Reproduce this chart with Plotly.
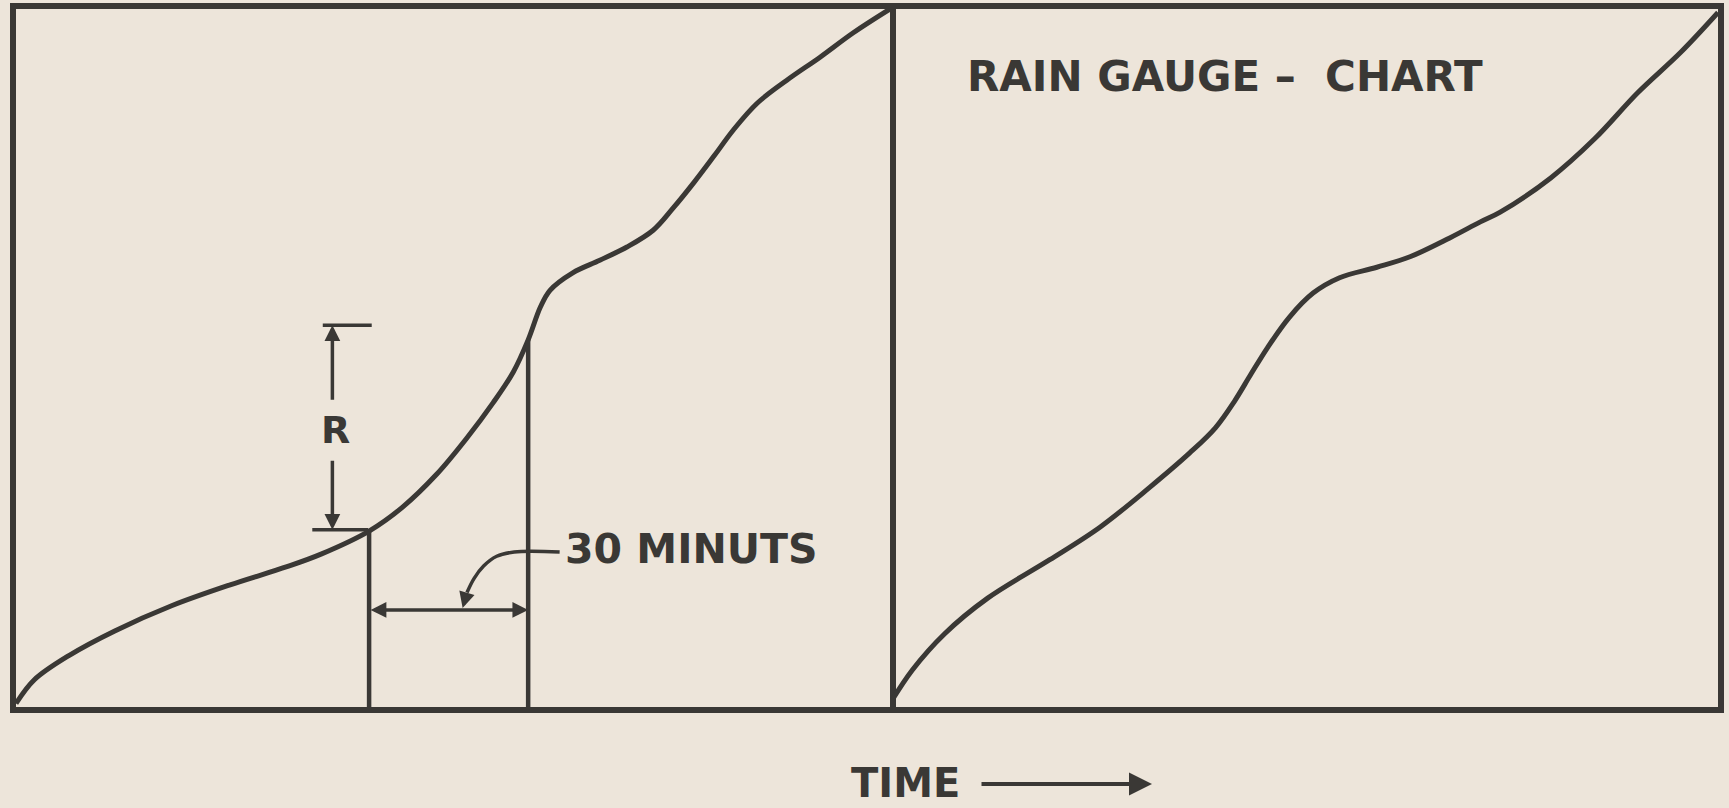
import numpy as np
import plotly.graph_objects as go

# ---------------- data (time and cumulative rainfall, % of chart span) ----------------
left_time = [0, 2.1, 6.1, 11.3, 17.8, 24.5, 31.0, 34.9, 40.4, 44.2, 48.1, 51.5, 54.6, 56.9,
             58.6, 60.0, 61.1, 63.7, 66.8, 69.9, 72.9, 75.2, 77.6, 79.9, 82.1, 84.8,
             88.2, 92.0, 95.8, 100]
left_rain = [0.5, 3.9, 7.4, 10.9, 14.5, 17.5, 20.1, 21.9, 25.2, 28.6, 33.3, 38.4, 43.6, 48.0,
             52.6, 57.3, 59.7, 62.2, 64.0, 65.9, 68.3, 71.5, 75.2, 79.0, 82.7, 86.5,
             89.8, 93.1, 96.6, 100]

right_time = [0, 2.7, 6.6, 11.8, 19.3, 25.4, 31.4, 36.2, 39.3, 41.6, 43.6, 45.6, 48.2, 51.1,
              54.3, 58.8, 62.8, 67.6, 71.3, 73.7, 79.8, 85.1, 90.3, 95.5, 100]
right_rain = [0.5, 5.3, 10.5, 15.6, 21.1, 25.8, 31.5, 36.4, 40.0, 43.8, 47.7, 51.5, 55.8, 59.3,
              61.5, 63.0, 64.5, 67.2, 69.5, 70.9, 75.8, 81.4, 88.0, 93.8, 99.5]

# 30-minute interval marked on the left chart
interval_times = [40.4, 58.6]
interval_label = "30 MINUTS"
interval_dim_rain = 13.9          # level of the horizontal dimension arrow

# rainfall depth R dimension
r_dim_time = 36.2
r_dim_low, r_dim_high = 25.4, 54.7
r_gap_low, r_gap_high = 35.5, 43.8
r_tick_low = [33.9, 40.3]
r_tick_high = [35.1, 40.7]

title_text = "RAIN GAUGE –  CHART"
axis_label = "TIME"

# ---------------- styling ----------------
W, H = 1729, 808
INK = "#3a3835"
PAPER = "#ede5da"
FONT = "DejaVu Sans"

interval_rain = list(np.interp(interval_times, left_time, left_rain))

fig = go.Figure()

fig.add_trace(go.Scatter(x=left_time, y=left_rain, mode="lines",
                         line=dict(color=INK, width=5, shape="spline", smoothing=1.0),
                         xaxis="x", yaxis="y", hoverinfo="skip"))
fig.add_trace(go.Scatter(x=right_time, y=right_rain, mode="lines",
                         line=dict(color=INK, width=5, shape="spline", smoothing=1.0),
                         xaxis="x2", yaxis="y2", hoverinfo="skip"))

# vertical lines bounding the 30-minute interval
vx, vy = [], []
for t, r in zip(interval_times, interval_rain):
    vx += [t, t, None]
    vy += [0, r, None]
fig.add_trace(go.Scatter(x=vx, y=vy, mode="lines", line=dict(color=INK, width=4.5),
                         xaxis="x", yaxis="y", hoverinfo="skip"))

# R dimension ticks
fig.add_trace(go.Scatter(x=r_tick_low + [None] + r_tick_high,
                         y=[r_dim_low, r_dim_low, None, r_dim_high, r_dim_high],
                         mode="lines", line=dict(color=INK, width=3.5),
                         xaxis="x", yaxis="y", hoverinfo="skip"))

# leader line from label to the interval arrow
leader_t = [62.2, 57.0, 55.0, 53.5, 52.4, 51.6]
leader_r = [22.2, 22.2, 21.6, 20.2, 18.4, 16.4]
fig.add_trace(go.Scatter(x=leader_t, y=leader_r, mode="lines",
                         line=dict(color=INK, width=3.5, shape="spline"),
                         xaxis="x", yaxis="y", hoverinfo="skip"))

ann = []
# horizontal double arrow (30 minutes)
ann.append(dict(x=interval_times[1], y=interval_dim_rain, ax=interval_times[0], ay=interval_dim_rain,
                xref="x", yref="y", axref="x", ayref="y", text="", showarrow=True,
                arrowside="end+start", arrowhead=2, startarrowhead=2,
                arrowsize=0.9, startarrowsize=0.9, arrowwidth=3.5, arrowcolor=INK))
# leader arrow tip
ann.append(dict(x=51.1, y=interval_dim_rain + 0.3, ax=leader_t[-1], ay=leader_r[-1],
                xref="x", yref="y", axref="x", ayref="y", text="", showarrow=True,
                arrowhead=2, arrowsize=0.9, arrowwidth=3.5, arrowcolor=INK))
# R dimension arrows
ann.append(dict(x=r_dim_time, y=r_dim_high, ax=r_dim_time, ay=r_gap_high,
                xref="x", yref="y", axref="x", ayref="y", text="", showarrow=True,
                arrowhead=2, arrowsize=0.9, arrowwidth=3.5, arrowcolor=INK))
ann.append(dict(x=r_dim_time, y=r_dim_low, ax=r_dim_time, ay=r_gap_low,
                xref="x", yref="y", axref="x", ayref="y", text="", showarrow=True,
                arrowhead=2, arrowsize=0.9, arrowwidth=3.5, arrowcolor=INK))
# labels
ann.append(dict(x=r_dim_time + 0.3, y=(r_gap_low + r_gap_high) / 2, xref="x", yref="y",
                text="R", showarrow=False,
                font=dict(family=FONT, size=38, color=INK, weight="bold")))
ann.append(dict(x=62.6, y=22.6, xref="x", yref="y", xanchor="left", yanchor="middle",
                text=interval_label, showarrow=False,
                font=dict(family=FONT, size=41, color=INK, weight="bold")))
ann.append(dict(x=9.0, y=90.4, xref="x2", yref="y2", xanchor="left", yanchor="middle",
                text=title_text, showarrow=False,
                font=dict(family=FONT, size=42, color=INK, weight="bold")))
ann.append(dict(x=849 / W, y=1 - 783 / H, xref="paper", yref="paper", xanchor="left",
                yanchor="middle", text=axis_label, showarrow=False,
                font=dict(family=FONT, size=40, color=INK, weight="bold")))
ann.append(dict(x=1152 / W, y=1 - 784 / H, xref="paper", yref="paper", ax=-172, ay=0,
                text="", showarrow=True, arrowhead=2, arrowsize=1.15, arrowwidth=4,
                arrowcolor=INK))

ydom = [(H - 707) / H, (H - 9) / H]
axis_common = dict(range=[0, 100], showline=True, linewidth=6, linecolor=INK,
                   showgrid=False, zeroline=False, showticklabels=False, ticks="",
                   fixedrange=True)

fig.update_layout(
    width=W, height=H,
    margin=dict(l=0, r=0, t=0, b=0),
    paper_bgcolor=PAPER, plot_bgcolor=PAPER,
    showlegend=False,
    xaxis=dict(domain=[16 / W, 890 / W], anchor="y", mirror=True, **axis_common),
    yaxis=dict(domain=ydom, anchor="x", mirror=True, **axis_common),
    xaxis2=dict(domain=[890 / W, 1718 / W], anchor="y2", mirror=True, **axis_common),
    yaxis2=dict(domain=ydom, anchor="x2", side="right", mirror=False, **axis_common),
    annotations=ann,
)

fig.write_html("out.html", config={"displayModeBar": False},
               post_script="document.body.style.margin='0';document.body.style.overflow='hidden';")
